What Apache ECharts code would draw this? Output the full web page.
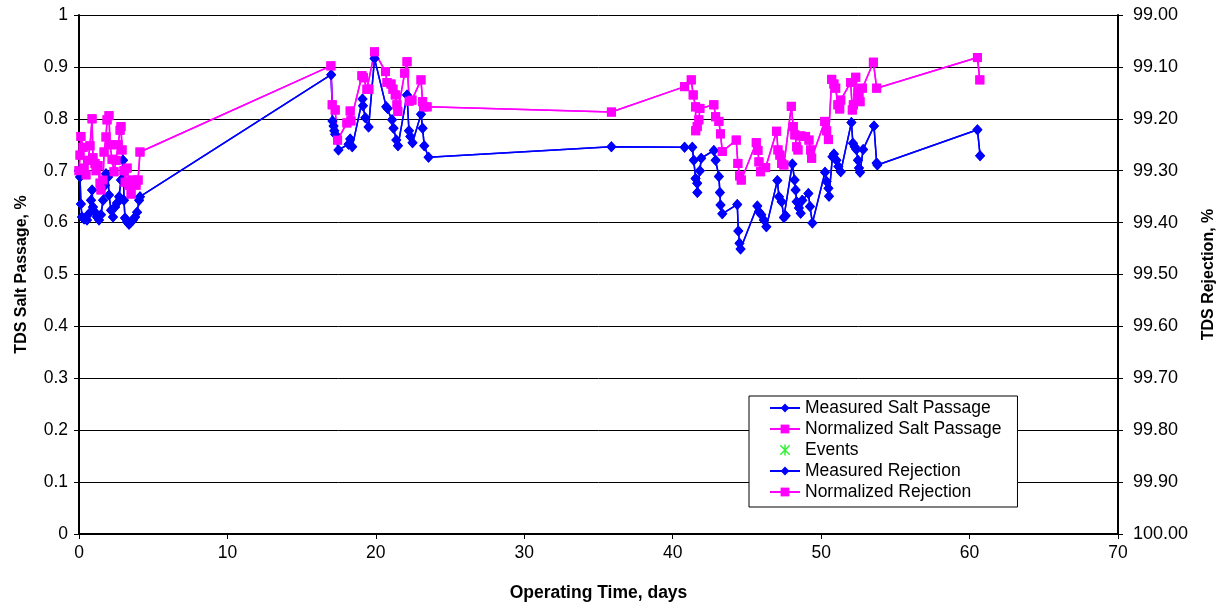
<!DOCTYPE html>
<html>
<head>
<meta charset="utf-8">
<script src="https://cdn.jsdelivr.net/npm/echarts@6/dist/echarts.min.js"></script>
<style>
  html, body { margin: 0; padding: 0; background: #fff; }
  #chart { width: 1221px; height: 606px; }
</style>
</head>
<body>
<div id="chart"></div>
<script>
// operating time (days) and TDS salt passage (%)
const measuredDays = [
  0, 0.07, 0.13, 0.2, 0.34, 0.54, 0.67, 0.81, 0.88, 0.94, 1.08, 1.21, 1.35, 1.48, 1.62, 1.75, 1.82, 1.96,
  2.02, 2.16, 2.29, 2.43, 2.56, 2.7, 2.83, 2.97, 3.03, 3.1, 3.24, 3.37, 3.51, 3.64, 3.78, 3.91, 4.05, 4.11,
  16.99, 17.08, 17.15, 17.2, 17.26, 17.48, 18.16, 18.27, 18.41, 19.1, 19.13, 19.29, 19.51, 19.91,
  20.7, 20.79, 21.09, 21.19, 21.38, 21.49, 22.1, 22.23, 22.32, 22.47, 23.04, 23.15, 23.26, 23.55,
  35.87,
  40.8, 41.32, 41.42, 41.54, 41.65, 41.66, 41.83, 41.92, 42.77, 42.89, 43.11, 43.18, 43.22, 43.34,
  44.35, 44.42, 44.5, 44.57, 45.7, 45.81, 45.97, 46.14, 46.31, 47.05, 47.16, 47.34, 47.49, 47.61,
  48.06, 48.21, 48.28, 48.35, 48.5, 48.62, 48.73, 49.14, 49.25, 49.41, 50.26, 50.37, 50.49, 50.53,
  50.76, 50.86, 51.03, 51.16, 51.32, 52.04, 52.14, 52.26, 52.37, 52.48, 52.55, 52.62, 52.83,
  53.56, 53.74, 53.79, 60.53, 60.71
]
const measuredPassage = [
  0.70, 0.688, 0.636, 0.611, 0.607, 0.605, 0.617, 0.643, 0.663, 0.63, 0.62, 0.611, 0.605, 0.615, 0.643, 0.672, 0.694, 0.688,
  0.653, 0.624, 0.611, 0.63, 0.638, 0.65, 0.682, 0.72, 0.643, 0.609, 0.601, 0.597, 0.601, 0.605, 0.611, 0.62, 0.643, 0.65,
  0.885, 0.796, 0.786, 0.777, 0.77, 0.74, 0.751, 0.761, 0.746, 0.838, 0.825, 0.802, 0.784, 0.916,
  0.823, 0.82, 0.798, 0.782, 0.759, 0.748, 0.846, 0.777, 0.766, 0.754, 0.809, 0.782, 0.748, 0.726,
  0.746,
  0.745, 0.745, 0.72, 0.685, 0.676, 0.658, 0.70, 0.724, 0.739, 0.72, 0.689, 0.658, 0.634, 0.617,
  0.635, 0.584, 0.56, 0.549, 0.632, 0.621, 0.615, 0.605, 0.592, 0.681, 0.65, 0.64, 0.61, 0.613,
  0.713, 0.682, 0.663, 0.64, 0.628, 0.618, 0.643, 0.656, 0.631, 0.599, 0.697, 0.679, 0.666, 0.651,
  0.727, 0.732, 0.72, 0.708, 0.698, 0.793, 0.753, 0.746, 0.741, 0.72, 0.705, 0.697, 0.741,
  0.786, 0.715, 0.711, 0.779, 0.729
]

const normalizedDays = [
  0, 0.07, 0.13, 0.27, 0.34, 0.47, 0.61, 0.74, 0.88, 0.94, 1.08, 1.15, 1.28, 1.42, 1.48, 1.62, 1.69, 1.82, 1.89,
  2.02, 2.09, 2.23, 2.36, 2.5, 2.63, 2.77, 2.83, 2.9, 3.03, 3.1, 3.24, 3.37, 3.51, 3.64, 3.84, 3.98, 4.11,
  16.97, 17.06, 17.26, 17.42, 18.05, 18.27, 18.32, 19.06, 19.17, 19.4, 19.53, 19.91,
  20.65, 20.75, 21.02, 21.15, 21.31, 21.42, 21.48, 21.94, 22.1, 22.25, 22.43, 23.04, 23.15, 23.22, 23.45,
  35.87,
  40.8, 41.25, 41.38, 41.54, 41.55, 41.65, 41.76, 41.83, 42.77, 42.89, 43.11, 43.22, 43.34,
  44.28, 44.39, 44.5, 44.62, 45.63, 45.74, 45.81, 45.92, 46.26, 47.0, 47.09, 47.22, 47.34, 47.49,
  47.99, 48.12, 48.23, 48.35, 48.44, 48.62, 48.95, 49.18, 49.29, 49.36, 50.24, 50.37, 50.49,
  50.71, 50.86, 50.98, 51.13, 51.25, 51.32, 51.99, 52.1, 52.17, 52.33, 52.48, 52.55, 52.62, 52.78,
  53.52, 53.74, 60.53, 60.69
]
const normalizedPassage = [
  0.70, 0.73, 0.766, 0.745, 0.705, 0.692, 0.72, 0.748, 0.80, 0.725, 0.714, 0.70, 0.71, 0.676, 0.663, 0.682, 0.736, 0.765, 0.798,
  0.806, 0.75, 0.722, 0.698, 0.72, 0.75, 0.778, 0.785, 0.74, 0.70, 0.678, 0.705, 0.672, 0.655, 0.682, 0.672, 0.682, 0.736,
  0.902, 0.827, 0.817, 0.759, 0.792, 0.815, 0.796, 0.883, 0.879, 0.857, 0.857, 0.929,
  0.891, 0.870, 0.867, 0.857, 0.846, 0.827, 0.814, 0.888, 0.91, 0.834, 0.836, 0.875, 0.833, 0.823, 0.823,
  0.813,
  0.862, 0.875, 0.846, 0.823, 0.777, 0.785, 0.798, 0.82, 0.827, 0.804, 0.795, 0.771, 0.737,
  0.759, 0.714, 0.69, 0.682, 0.754, 0.739, 0.717, 0.698, 0.706, 0.776, 0.74, 0.73, 0.714, 0.711,
  0.824, 0.785, 0.769, 0.746, 0.74, 0.767, 0.766, 0.759, 0.74, 0.724, 0.795, 0.777, 0.76,
  0.876, 0.867, 0.859, 0.827, 0.819, 0.836, 0.87, 0.817, 0.827, 0.88, 0.852, 0.843, 0.833, 0.859,
  0.909, 0.859, 0.918, 0.875
]

// events carry no points in this chart, only the legend entry
const eventDays = []
const eventValues = []

const passageTicks = { min: 0, max: 1, interval: 0.1 }
const rejectionTicks = { min: 99, max: 100, interval: 0.1 }
const timeTicks = { min: 0, max: 70, interval: 10 }

const BLUE = "#0000ff"
const PINK = "#ff00ff"
const GREEN = "#00ee00"
const FONT = "Liberation Sans, Arial, sans-serif"
const ASTERISK = "path://M5,0L5,10M0.7,0.7L9.3,9.3M0.7,9.3L9.3,0.7"

function pairs(xs, ys) {
  return xs.map((x, i) => [x, ys[i]])
}

function rejection(values) {
  return values.map((v) => +(100 - v).toFixed(3))
}

function lineSeries(name, color, symbol, size, data, yAxisIndex) {
  return {
    name,
    type: "line",
    yAxisIndex,
    data,
    symbol,
    symbolSize: size,
    showSymbol: true,
    lineStyle: { color, width: 1.5 },
    itemStyle: { color, borderWidth: 0 },
    emphasis: { disabled: true },
    animation: false
  }
}

const chart = echarts.init(document.getElementById("chart"), null, { renderer: "canvas" })

const axisLabel = { color: "#000", fontFamily: FONT, fontSize: 17.5 }
const xName = { color: "#000", fontFamily: FONT, fontSize: 17.5, fontWeight: "bold" }
const yName = { color: "#000", fontFamily: FONT, fontSize: 16, fontWeight: "bold" }

chart.setOption({
  animation: false,
  grid: { left: 79, right: 103, top: 15, bottom: 72, outerBoundsMode: "none", containLabel: false },
  legend: {
    orient: "vertical",
    left: 749,
    top: 396,
    padding: [3, 16, 6, 20],
    itemGap: 3,
    itemWidth: 30,
    itemHeight: 11,
    borderColor: "#000",
    borderWidth: 1,
    backgroundColor: "#fff",
    textStyle: { color: "#000", fontFamily: FONT, fontSize: 17.5, lineHeight: 17 },
    data: [
      { name: "Measured Salt Passage" },
      { name: "Normalized Salt Passage" },
      { name: "Events", icon: ASTERISK, itemStyle: { color: "none", borderColor: GREEN, borderWidth: 1.5 } },
      { name: "Measured Rejection" },
      { name: "Normalized Rejection" }
    ]
  },
  xAxis: {
    type: "value",
    min: timeTicks.min,
    max: timeTicks.max,
    interval: timeTicks.interval,
    name: "Operating Time, days",
    nameLocation: "middle",
    nameGap: 50,
    nameTextStyle: xName,
    axisLine: { show: true, onZero: false, lineStyle: { color: "#000", width: 2 } },
    axisTick: { show: true, inside: false, length: 5, lineStyle: { color: "#000" } },
    axisLabel: { ...axisLabel, margin: 10 },
    splitLine: { show: false }
  },
  yAxis: [
    {
      type: "value",
      position: "left",
      min: passageTicks.min,
      max: passageTicks.max,
      interval: passageTicks.interval,
      name: "TDS Salt Passage, %",
      nameLocation: "middle",
      nameGap: 49,
      nameRotate: 90,
      nameTextStyle: yName,
      axisLine: { show: true, onZero: false, lineStyle: { color: "#000", width: 2 } },
      axisTick: { show: true, length: 5, lineStyle: { color: "#000" } },
      axisLabel: { ...axisLabel, margin: 11, formatter: (v) => String(+v.toFixed(1)) },
      splitLine: { show: true, lineStyle: { color: "#000", width: 1 } }
    },
    {
      type: "value",
      position: "right",
      inverse: true,
      min: rejectionTicks.min,
      max: rejectionTicks.max,
      interval: rejectionTicks.interval,
      name: "TDS Rejection, %",
      nameLocation: "middle",
      nameGap: 83,
      nameRotate: 90,
      nameTextStyle: yName,
      axisLine: { show: true, onZero: false, lineStyle: { color: "#000", width: 2 } },
      axisTick: { show: true, length: 5, lineStyle: { color: "#000" } },
      axisLabel: { ...axisLabel, fontSize: 18, margin: 15, formatter: (v) => v.toFixed(2) },
      splitLine: { show: false }
    }
  ],
  series: [
    lineSeries("Measured Salt Passage", BLUE, "diamond", [10, 11], pairs(measuredDays, measuredPassage), 0),
    lineSeries("Normalized Salt Passage", PINK, "rect", 9, pairs(normalizedDays, normalizedPassage), 0),
    {
      name: "Events",
      type: "scatter",
      data: pairs(eventDays, eventValues),
      symbol: ASTERISK,
      symbolSize: 10,
      itemStyle: { color: "none", borderColor: GREEN, borderWidth: 1.5 }
    },
    lineSeries("Measured Rejection", BLUE, "diamond", [10, 11], pairs(measuredDays, rejection(measuredPassage)), 1),
    lineSeries("Normalized Rejection", PINK, "rect", 9, pairs(normalizedDays, rejection(normalizedPassage)), 1)
  ]
})
</script>
</body>
</html>
